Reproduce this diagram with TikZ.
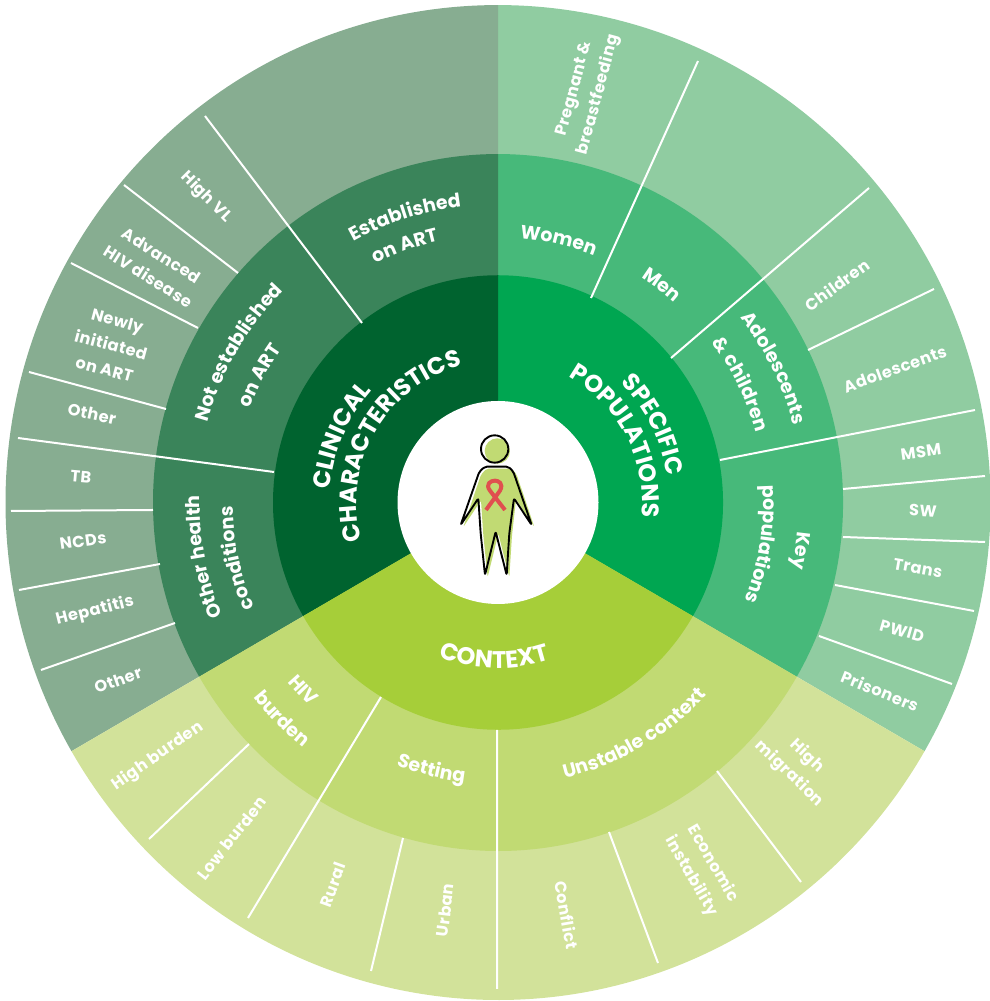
\documentclass[tikz,border=0pt]{standalone}
\usepackage{fontspec}
\setmainfont{Poppins}
\usetikzlibrary{decorations.text}
\definecolor{cA}{HTML}{00632F}\definecolor{cB}{HTML}{00A651}\definecolor{cC}{HTML}{A6CE39}
\definecolor{mA}{HTML}{3A845A}\definecolor{mB}{HTML}{47B97A}\definecolor{mC}{HTML}{C1DA73}
\definecolor{oA}{HTML}{87AD91}\definecolor{oB}{HTML}{90CCA1}\definecolor{oC}{HTML}{D2E29A}
\definecolor{ribbon}{HTML}{E04F4F}
\tikzset{
  sep/.style={draw=white,line width=2pt},
  lab/.style={text=white,font=\fontsize{16.2}{25}\selectfont\bfseries\addfontfeature{LetterSpace=3},align=center,inner sep=0pt},
  body/.style={draw=black,line width=1.9pt,line join=round,rounded corners=2pt}
}
\newcommand{\sect}[4]{\fill[#1] (0,0) -- (#2:#4) arc[start angle=#2,end angle=#3,radius=#4] -- cycle;}
\newcommand{\cwlab}[5]{% size, rcentre, mid, span, text : clockwise, top outward
  \pgfmathsetmacro{\rb}{#2-0.36*#1}\pgfmathsetmacro{\sa}{#3+#4}\pgfmathsetmacro{\ea}{#3-#4}
  \path[decorate,decoration={text along path,text align=center,text={|\fontsize{#1}{#1}\selectfont\bfseries\addfontfeature{LetterSpace=3.5}\color{white}|#5}}]
    (\sa:\rb) arc[start angle=\sa,end angle=\ea,radius=\rb];}
\newcommand{\ccwlab}[5]{% size, rcentre, mid, span, text : counter-clockwise, top inward
  \pgfmathsetmacro{\rb}{#2+0.36*#1}\pgfmathsetmacro{\sa}{#3-#4}\pgfmathsetmacro{\ea}{#3+#4}
  \path[decorate,decoration={text along path,text align=center,text={|\fontsize{#1}{#1}\selectfont\bfseries\addfontfeature{LetterSpace=3.5}\color{white}|#5}}]
    (\sa:\rb) arc[start angle=\sa,end angle=\ea,radius=\rb];}
\begin{document}
\begin{tikzpicture}[x=1pt,y=1pt]
\useasboundingbox (0,0) rectangle (990,1001);
\begin{scope}[shift={(498,498.5)},yscale=1.01]
  \sect{oB}{-30}{90}{492.5}\sect{oA}{90}{210}{492.5}\sect{oC}{210}{330}{492.5}
  \sect{mB}{-30}{90}{345}\sect{mA}{90}{210}{345}\sect{mC}{210}{330}{345}
  \sect{cB}{-30}{90}{225}\sect{cA}{90}{210}{225}\sect{cC}{210}{330}{225}
\end{scope}
\begin{scope}[yshift=1001pt,y=-1pt]
  \draw[sep] (205,116)--(362,323) (124,185)--(238,273) (71,263)--(198,328) (29,372)--(166,409)
    (18,438)--(274,472) (11,511)--(153,510) (19,590)--(160,564) (41,670)--(175,623)
    (149,839)--(249,744) (248,918)--(381,697) (371,971)--(403,838) (497,989)--(497,730)
    (658,963)--(609,832) (801,882)--(717,771) (698,61)--(591,298) (869,188)--(671,358)
    (934,289)--(808,350) (975,410)--(720,460) (985,476)--(843,489) (985,542)--(843,537)
    (974,611)--(835,585) (952,684)--(819,636);
  % outer ring labels
  \node[lab,rotate=75] (l1) at (587,92) {Pregnant \&\\breastfeeding};
  \node[lab,rotate=36] (l2) at (837,285) {Children};
  \node[lab,rotate=20] (l3) at (895,369) {Adolescents};
  \node[lab,rotate=8] (l4) at (921,452) {MSM};
  \node[lab,rotate=-3] (l5) at (923,511) {SW};
  \node[lab,rotate=-10] (l6) at (918,568) {Trans};
  \node[lab,rotate=-16] (l7) at (902,631) {PWID};
  \node[lab,rotate=-22] (l8) at (880,691) {Prisoners};
  \node[lab,rotate=-44] (l9) at (798,765) {High\\migration};
  \node[lab,rotate=-60] (l10) at (702,870) {Economic\\instability};
  \node[lab,rotate=-80] (l11) at (567,915) {Conflict};
  \node[lab,rotate=83] (l12) at (445,910) {Urban};
  \node[lab,rotate=70] (l13) at (333,885) {Rural};
  \node[lab,rotate=52] (l14) at (232,838) {Low burden};
  \node[lab,rotate=35] (l15) at (158,756) {High burden};
  \node[lab,rotate=20] (l16) at (118,680) {Other};
  \node[lab,rotate=14] (l17) at (95,611) {Hepatitis};
  \node[lab,rotate=8] (l18) at (83,541) {NCDs};
  \node[lab,rotate=-5] (l19) at (81,477) {TB};
  \node[lab,rotate=-12] (l20) at (92,414) {Other};
  \node[lab,rotate=-15] (l21) at (111,345) {Newly\\initiated\\on ART};
  \node[lab,rotate=-32] (l22) at (155,266) {Advanced\\HIV disease};
  \node[lab,rotate=-45] (l23) at (206,197) {High VL};
\end{scope}
\begin{scope}[shift={(498,498.5)}]
  \cwlab{24}{177}{157}{80}{CLINICAL}
  \cwlab{24}{150}{150}{88}{CHARACTERISTICS}
  \cwlab{24}{180}{26.7}{70}{SPECIFIC}
  \cwlab{24}{153}{27.5}{80}{POPULATIONS}
  \ccwlab{24}{157}{268.5}{50}{CONTEXT}
  \cwlab{19}{305}{108}{40}{Established}
  \cwlab{19}{275}{110}{40}{on ART}
  \cwlab{19}{308}{150}{40}{Not established}
  \cwlab{19}{272}{152}{40}{on ART}
  \cwlab{19}{305}{190.5}{40}{Other health}
  \cwlab{19}{272}{192}{40}{conditions}
  \cwlab{19}{272}{77}{40}{Women}
  \cwlab{19}{273}{53}{40}{Men}
  \cwlab{19}{312}{26}{40}{Adolescents}
  \cwlab{19}{274}{26}{40}{{\&} children}
  \cwlab{19}{308}{-9}{40}{Key}
  \cwlab{19}{272}{-9}{40}{populations}
  \ccwlab{19}{270}{224}{40}{HIV}
  \ccwlab{19}{306}{225}{40}{burden}
  \ccwlab{19}{275}{256}{40}{Setting}
  \ccwlab{19}{277}{300.5}{40}{Unstable context}
\end{scope}
\begin{scope}[shift={(498,498.5)},yscale=1.01]
  \fill[white] (0,0) circle[radius=100.5];
\end{scope}
% person: zoom-crop coordinates
\begin{scope}[shift={(390,601)},x=0.3333pt,y=-0.3333pt]
  \begin{scope}[shift={(8,6)}]
    \fill[mC] (314,147) circle[radius=38];
    \fill[mC,rounded corners=2pt] (282,200)--(358,200)--(372,218)--(425,375)--(370,292)--(358,400)--(350,525)--(317,395)--(285,525)--(272,400)--(265,295)--(212,375)--(265,218)--cycle;
  \end{scope}
  \draw[body] (314,147) circle[radius=41];
  \draw[body] (285,200)--(355,200)--(370,215)--(425,375)--(372,295)--(358,400)--(350,525)--(317,395)--(285,525)--(272,400)--(265,295)--(212,375)--(268,215)--cycle;
  \draw[ribbon,line width=4pt,line join=round] (288,330)--(330,272) .. controls (342,250) and (325,242) .. (315,242) .. controls (302,242) and (285,252) .. (300,272) -- (345,330);
\end{scope}
\end{tikzpicture}
\end{document}
